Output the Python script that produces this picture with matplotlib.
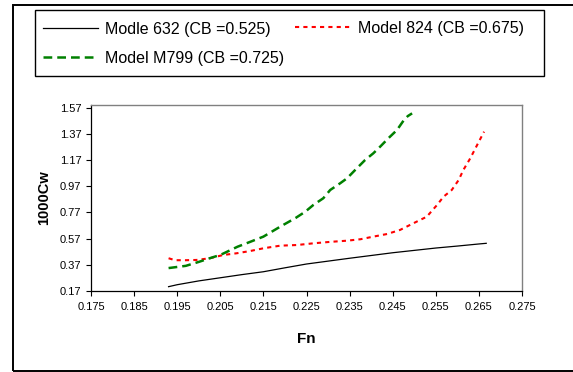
import matplotlib
matplotlib.use("Agg")
import matplotlib.pyplot as plt
from matplotlib.lines import Line2D
from matplotlib.patches import Rectangle
import numpy as np

plt.rcParams['font.family'] = ['Liberation Sans', 'DejaVu Sans']

# ---- data ----
fn_632 = [0.193, 0.195, 0.200, 0.205, 0.210, 0.215, 0.220, 0.225, 0.230, 0.235,
          0.240, 0.245, 0.250, 0.255, 0.260, 0.265, 0.2667]
cw_632 = [0.203, 0.218, 0.247, 0.271, 0.295, 0.317, 0.347, 0.376, 0.398, 0.420,
          0.441, 0.462, 0.480, 0.498, 0.513, 0.529, 0.534]

fn_824 = [0.193, 0.1945, 0.197, 0.1995, 0.2026, 0.2057, 0.2088, 0.2119, 0.215, 0.2189,
          0.2228, 0.2266, 0.2305, 0.2344, 0.2375, 0.2405, 0.2437, 0.2467, 0.2498, 0.2529,
          0.2553, 0.2568, 0.2587, 0.2603, 0.2614, 0.263, 0.2646, 0.2662]
cw_824 = [0.420, 0.405, 0.405, 0.407, 0.420, 0.445, 0.458, 0.475, 0.496, 0.516,
          0.521, 0.534, 0.545, 0.554, 0.565, 0.585, 0.605, 0.636, 0.687, 0.737,
          0.827, 0.890, 0.941, 1.017, 1.094, 1.183, 1.285, 1.386]

fn_799 = [0.193, 0.197, 0.200, 0.203, 0.205, 0.209, 0.212, 0.215, 0.219, 0.2225,
          0.2247, 0.2266, 0.2289, 0.2305, 0.2328, 0.2344, 0.2363, 0.2386, 0.2405, 0.2421,
          0.2440, 0.2460, 0.2475, 0.2485, 0.2495]
cw_799 = [0.345, 0.362, 0.392, 0.425, 0.445, 0.508, 0.546, 0.585, 0.663, 0.728,
          0.775, 0.827, 0.878, 0.941, 0.992, 1.030, 1.094, 1.170, 1.221, 1.272,
          1.336, 1.399, 1.470, 1.505, 1.526]

labels = ["Modle 632 (CB =0.525)", "Model 824 (CB =0.675)", "Model M799 (CB =0.725)"]
x_ticks = [0.175, 0.185, 0.195, 0.205, 0.215, 0.225, 0.235, 0.245, 0.255, 0.265, 0.275]
y_ticks = [0.17, 0.37, 0.57, 0.77, 0.97, 1.17, 1.37, 1.57]

W, H = 573, 372
fig = plt.figure(figsize=(W / 100, H / 100), dpi=100)

# outer border
fig.patches.append(Rectangle((13 / W, 1 - 371 / H), 1.0, (371 - 5) / H,
                             transform=fig.transFigure, fill=False,
                             edgecolor='black', lw=1.4))

ax = fig.add_axes([91 / W, 1 - 291 / H, 431 / W, 186.3 / H])

styles = [
    dict(color='black', lw=0.9, ls='-'),
    dict(color='#ff0000', lw=1.5, ls=(0, (2, 2))),
    dict(color='#008000', lw=1.8, ls=(0, (3.5, 2))),
]
ax.plot(fn_632, cw_632, **styles[0])
ax.plot(fn_824, cw_824, **styles[1])
ax.plot(fn_799, cw_799, **styles[2])

ax.set_xlim(0.175, 0.275)
ax.set_ylim(0.17, 1.592)
ax.set_xticks(x_ticks)
ax.set_xticklabels([f"{v:.3f}" for v in x_ticks])
ax.set_yticks(y_ticks)
ax.set_yticklabels([f"{v:.2f}" for v in y_ticks])
ax.tick_params(axis='both', labelsize=8, length=3.5, width=0.8, direction='out')
ax.tick_params(axis='x', pad=4.5)
ax.tick_params(axis='y', pad=3.5)
for s in ['top', 'right']:
    ax.spines[s].set_color('#808080')
    ax.spines[s].set_linewidth(1.0)
for s in ['left', 'bottom']:
    ax.spines[s].set_color('black')
    ax.spines[s].set_linewidth(0.9)

ax.set_xlabel("Fn", fontsize=11, fontweight='bold', va='center')
ax.xaxis.set_label_coords(0.5, (291 - 339.3) / 186.3)
ax.set_ylabel("1000Cw", fontsize=10.5, fontweight='bold', va='center')
ax.yaxis.set_label_coords((44 - 91) / 431, 0.5)

# legend box (manual, Excel-style)
fig.patches.append(Rectangle((35.3 / W, 1 - 75.7 / H), (544.3 - 35.3) / W, (75.7 - 10) / H,
                             transform=fig.transFigure, fill=False,
                             edgecolor='black', lw=1.0))
entries = [
    (42.7, 98.3, 27.7, 105, 0),
    (295, 353.3, 27.0, 357.7, 1),
    (42.7, 98.3, 56.7, 105, 2),
]
for x0, x1, yy, xt, i in entries:
    fig.lines.append(Line2D([x0 / W, x1 / W], [1 - yy / H, 1 - yy / H],
                            transform=fig.transFigure, **styles[i]))
    fig.text(xt / W, 1 - yy / H, labels[i], fontsize=11.5, ha='left', va='center_baseline')

fig.savefig("out.png", dpi=100)
